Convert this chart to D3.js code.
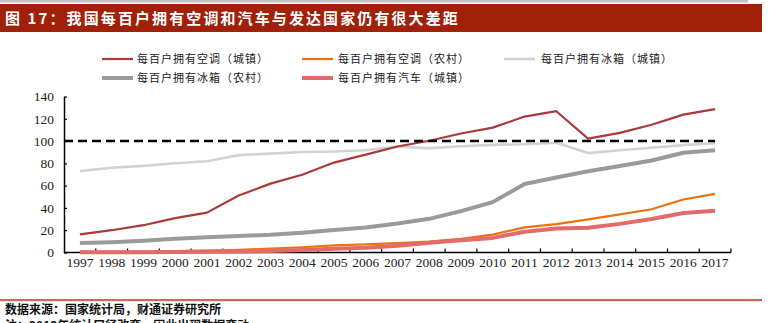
<!DOCTYPE html>
<html>
<head>
<meta charset="utf-8">
<script src="https://cdn.jsdelivr.net/npm/d3@7/dist/d3.min.js"></script>
<style>
  html, body { margin: 0; padding: 0; background: #fff; }
  svg { display: block; }
</style>
</head>
<body>
<svg id="chart" width="773" height="323"></svg>
<script>
// Household ownership per 100 households, 1997–2017
const years = ["1997","1998","1999","2000","2001","2002","2003","2004","2005","2006","2007",
               "2008","2009","2010","2011","2012","2013","2014","2015","2016","2017"];
const acUrban     = [16.3, 20.0, 24.5, 30.8, 35.8, 51.1, 61.8, 69.8, 80.7, 87.8, 95.1,
                     100.3, 106.8, 112.1, 122.0, 126.8, 102.2, 107.4, 114.6, 123.7, 128.6];
const acRural     = [0.5, 0.6, 0.7, 1.3, 1.7, 2.3, 3.5, 4.7, 6.4, 7.3, 8.5,
                     9.8, 12.2, 16.0, 22.6, 25.4, 29.8, 34.2, 38.8, 47.6, 52.6];
const fridgeUrban = [73.0, 76.1, 77.7, 80.1, 81.9, 87.4, 88.7, 90.2, 90.7, 91.8, 95.0,
                     93.6, 95.4, 96.6, 97.2, 98.5, 89.2, 91.7, 94.0, 96.4, 98.0];
const fridgeRural = [8.5, 9.3, 10.6, 12.3, 13.6, 14.8, 15.9, 17.8, 20.1, 22.5, 26.1,
                     30.2, 37.1, 45.2, 61.5, 67.3, 72.9, 77.6, 82.6, 89.5, 91.7];
const carUrban    = [0.2, 0.3, 0.3, 0.5, 0.6, 0.9, 1.4, 2.2, 3.4, 4.3, 6.1,
                     8.8, 10.9, 13.1, 18.6, 21.5, 22.3, 25.7, 30.0, 35.5, 37.5];
const developedLevel = 100;
const yTicks = [0, 20, 40, 60, 80, 100, 120, 140];

const titleText  = "图 17：我国每百户拥有空调和汽车与发达国家仍有很大差距";
const sourceText = "数据来源：国家统计局，财通证券研究所";
const noteText   = "注：2013年统计口径改变，因此出现数据变动";

const series = [
  { name: "每百户拥有空调（城镇）", values: acUrban,     color: "#A83A3A", width: 2.2 },
  { name: "每百户拥有空调（农村）", values: acRural,     color: "#EB730F", width: 2.2 },
  { name: "每百户拥有冰箱（城镇）", values: fridgeUrban, color: "#D2D2D2", width: 2.6 },
  { name: "每百户拥有冰箱（农村）", values: fridgeRural, color: "#9A9A9A", width: 4 },
  { name: "每百户拥有汽车（城镇）", values: carUrban,    color: "#E26A6A", width: 4 }
];

const svg = d3.select("#chart");
const cjk = "'Noto Sans CJK SC', 'Noto Sans', sans-serif";
const serif = "'Liberation Serif', 'DejaVu Serif', serif";

// Header: thin grey rule and red title banner
svg.append("rect").attr("x", 0).attr("y", 0).attr("width", 748).attr("height", 2.5).attr("fill", "#C2C2C2");
svg.append("rect").attr("x", 0).attr("y", 4).attr("width", 762).attr("height", 28).attr("fill", "#A1200A");
svg.append("text")
  .attr("x", 5).attr("y", 24)
  .attr("fill", "#fff")
  .style("font-family", cjk).style("font-size", "15px").style("font-weight", "bold")
  .style("letter-spacing", "2.1px")
  .text(titleText);

// Scales
const x = d3.scaleBand().domain(years).range([64, 731]).padding(0);
const y = d3.scaleLinear().domain([0, 140]).range([252.5, 96.5]);
const cx = d => x(d) + x.bandwidth() / 2;

// Y axis
const yAxis = svg.append("g").attr("transform", "translate(64,0)")
  .call(d3.axisLeft(y).tickValues(yTicks).tickSize(-3).tickPadding(10).tickSizeOuter(0));
yAxis.select(".domain").attr("stroke", "#000").attr("stroke-width", 1.5);
yAxis.selectAll(".tick line").attr("stroke", "#000").attr("stroke-width", 1.2);
yAxis.selectAll("text").style("font-family", serif).style("font-size", "13.5px").attr("fill", "#222");

// X axis with ticks between categories
const xAxisG = svg.append("g").attr("transform", `translate(0,${y(0)})`);
xAxisG.append("line").attr("x1", 64).attr("x2", 731).attr("y1", 0).attr("y2", 0)
  .attr("stroke", "#000").attr("stroke-width", 1.5);
const bounds = years.map(d => x(d)).concat([x(years[years.length - 1]) + x.bandwidth()]).slice(1);
xAxisG.selectAll("line.tk").data(bounds).enter().append("line")
  .attr("class", "tk").attr("x1", d => d).attr("x2", d => d).attr("y1", 0).attr("y2", -4)
  .attr("stroke", "#000").attr("stroke-width", 1.2);
xAxisG.selectAll("text").data(years).enter().append("text")
  .attr("x", d => cx(d)).attr("y", 14)
  .attr("text-anchor", "middle")
  .style("font-family", serif).style("font-size", "13.5px").attr("fill", "#222")
  .text(d => d);

// Series lines
const line = d3.line().x((d, i) => cx(years[i])).y(d => y(d));
const drawOrder = [2, 3, 1, 4, 0];
drawOrder.forEach(k => {
  const s = series[k];
  svg.append("path").datum(s.values)
    .attr("d", line)
    .attr("fill", "none")
    .attr("stroke", s.color)
    .attr("stroke-width", s.width)
    .attr("stroke-linejoin", "round");
});

// Reference level of developed countries
svg.append("line")
  .attr("x1", 64).attr("x2", cx(years[years.length - 1]))
  .attr("y1", y(developedLevel)).attr("y2", y(developedLevel))
  .attr("stroke", "#000").attr("stroke-width", 2.5).attr("stroke-dasharray", "9,5");

// Legend
const legendPos = [
  { lx: 102, tx: 137, ty: 59 },
  { lx: 302, tx: 338, ty: 59 },
  { lx: 504, tx: 541, ty: 59 },
  { lx: 102, tx: 137, ty: 78 },
  { lx: 302, tx: 338, ty: 78 }
];
series.forEach((s, i) => {
  const p = legendPos[i];
  svg.append("line").attr("x1", p.lx).attr("x2", p.lx + 31)
    .attr("y1", p.ty).attr("y2", p.ty)
    .attr("stroke", s.color).attr("stroke-width", s.width);
  svg.append("text").attr("x", p.tx).attr("y", p.ty + 4)
    .style("font-family", cjk).style("font-size", "11px").style("letter-spacing", "1px")
    .attr("fill", "#222")
    .text(s.name);
});

// Footer: rule, source and note
svg.append("rect").attr("x", 0).attr("y", 299).attr("width", 762).attr("height", 2.2).attr("fill", "#C96A5C");
svg.append("text").attr("x", 5).attr("y", 314)
  .style("font-family", cjk).style("font-size", "12px").style("font-weight", "bold")
  .attr("fill", "#111").text(sourceText);
svg.append("text").attr("x", 5).attr("y", 330)
  .style("font-family", cjk).style("font-size", "12px").style("font-weight", "bold")
  .attr("fill", "#111").text(noteText);
</script>
</body>
</html>
